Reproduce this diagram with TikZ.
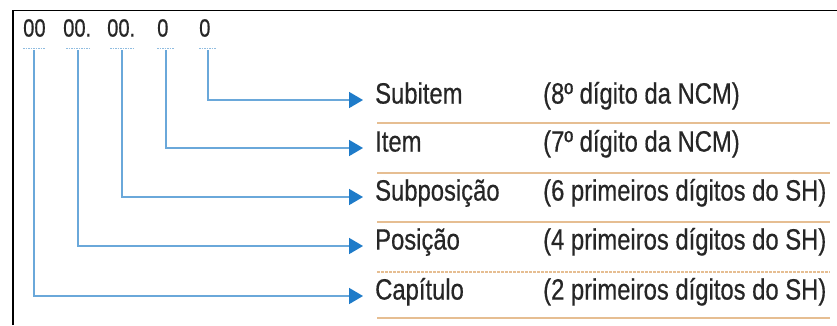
\documentclass[tikz,border=0pt]{standalone}
\usepackage{fontspec}
\setmainfont{Liberation Sans}[FakeStretch=0.81,FakeBold=0.5]
\usetikzlibrary{arrows.meta}
\definecolor{lineblue}{HTML}{6AA8DA}
\definecolor{tipblue}{HTML}{1E7BC9}
\definecolor{rulecol}{HTML}{E6BE92}
\definecolor{dashblue}{HTML}{8FBCE0}
\definecolor{txt}{HTML}{262626}
\begin{document}
\begin{tikzpicture}[x=1bp,y=-1bp,
  digit/.style={anchor=west,inner sep=0,text height=0.716em,text depth=0,font=\fontsize{25}{25}\selectfont,text=txt},
  lbl/.style={anchor=west,inner sep=0,text height=0.716em,text depth=0,font=\fontsize{29.5}{29.5}\selectfont,text=txt},
  conn/.style={draw=lineblue,line width=1.7bp,-{Triangle[length=14bp,width=16bp,color=tipblue,fill=tipblue]},shorten >=12bp},
  rowrule/.style={draw=rulecol,line width=2.2bp},
  tickline/.style={draw=dashblue,line width=1bp,dash pattern=on 1.5bp off 1bp}]
\useasboundingbox (0,0) rectangle (837,325);
\fill[white] (0,0) rectangle (837,325);
\draw[line width=1.5bp] (13,325) -- (13,10.5) -- (837,10.5);
% digits
\node[digit] (d1) at (23,33) {00};
\node[digit] (d2) at (63,33) {00.};
\node[digit] (d3) at (107,33) {00.};
\node[digit] (d4) at (157,33) {0};
\node[digit] (d5) at (199,33) {0};
\draw[tickline] (23,48) -- (45,48);
\draw[tickline] (66,48) -- (89,48);
\draw[tickline] (110,48) -- (133,48);
\draw[tickline] (157,48) -- (174,48);
\draw[tickline] (199,48) -- (216,48);
\coordinate (c1) at (34,50);
\coordinate (c2) at (78,50);
\coordinate (c3) at (122,50);
\coordinate (c4) at (166,50);
\coordinate (c5) at (208,50);
% labels
\node[lbl] (l1) at (375,100) {Subitem};
\node[lbl] (l2) at (375,148) {Item};
\node[lbl] (l3) at (375,197) {Subposição};
\node[lbl] (l4) at (375,246) {Posição};
\node[lbl] (l5) at (375,296) {Capítulo};
\node[lbl] (p1) at (543,100) {(8º dígito da NCM)};
\node[lbl] (p2) at (543,148) {(7º dígito da NCM)};
\node[lbl] (p3) at (543,197) {(6 primeiros dígitos do SH)};
\node[lbl] (p4) at (543,246) {(4 primeiros dígitos do SH)};
\node[lbl] (p5) at (543,296) {(2 primeiros dígitos do SH)};
% connectors
\draw[conn] (c5) |- (l1.west);
\draw[conn] (c4) |- (l2.west);
\draw[conn] (c3) |- (l3.west);
\draw[conn] (c2) |- (l4.west);
\draw[conn] (c1) |- (l5.west);
% rules
\draw[rowrule] (377,123) -- (830,123);
\draw[rowrule] (377,173) -- (830,173);
\draw[rowrule] (377,222) -- (830,222);
\draw[rowrule,dash pattern=on 3bp off 1bp] (377,272) -- (830,272);
\draw[rowrule] (377,318) -- (830,318);
\end{tikzpicture}
\end{document}
